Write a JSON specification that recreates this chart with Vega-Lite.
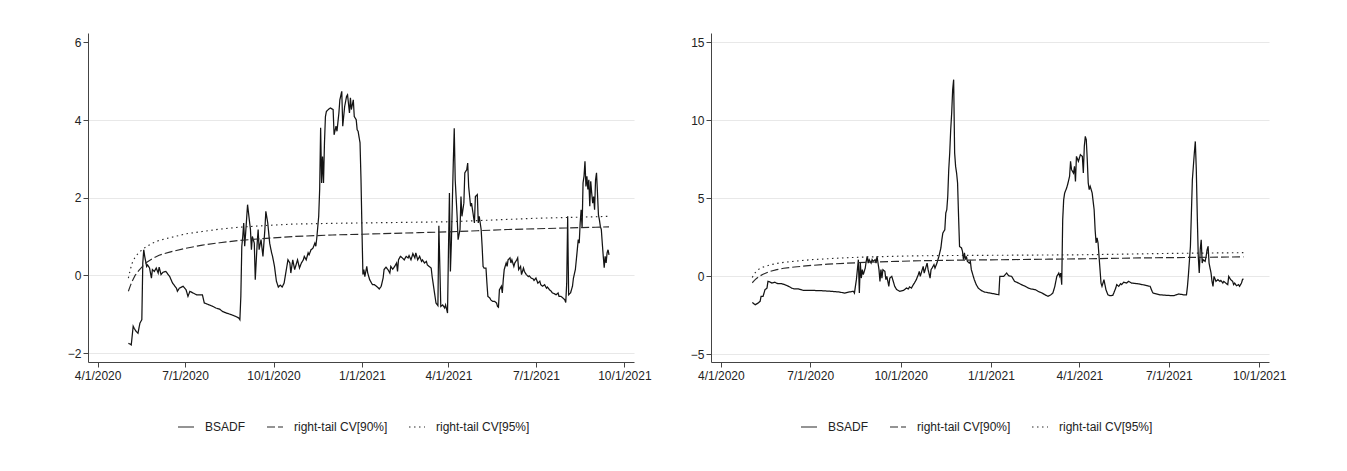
{
  "$schema": "https://vega.github.io/schema/vega-lite/v6.json",
  "background": "white",
  "padding": {"left": 67, "top": 33, "right": 64, "bottom": 38},
  "config": {
    "font": "Liberation Sans Narrow, Liberation Sans, Arial",
    "view": {"stroke": null},
    "axis": {"labelFont": "Liberation Sans Narrow, Liberation Sans, Arial", "labelFontSize": 12, "labelColor": "#222", "domainColor": "#444", "tickColor": "#444", "tickSize": 5, "title": null},
    "legend": {"labelFont": "Liberation Sans Narrow, Liberation Sans, Arial", "labelFontSize": 12, "labelColor": "#222"}
  },
  "datasets": {
    "cv": [
      {"d":"2020-05-03","c90":-0.41,"c95":-0.07},
      {"d":"2020-05-05","c90":-0.27,"c95":0.15},
      {"d":"2020-05-07","c90":-0.15,"c95":0.32},
      {"d":"2020-05-10","c90":0.0,"c95":0.47},
      {"d":"2020-05-14","c90":0.13,"c95":0.59},
      {"d":"2020-05-21","c90":0.32,"c95":0.73},
      {"d":"2020-05-28","c90":0.43,"c95":0.83},
      {"d":"2020-06-04","c90":0.52,"c95":0.90},
      {"d":"2020-06-15","c90":0.60,"c95":0.97},
      {"d":"2020-07-02","c90":0.70,"c95":1.07},
      {"d":"2020-07-19","c90":0.78,"c95":1.13},
      {"d":"2020-08-06","c90":0.84,"c95":1.19},
      {"d":"2020-08-26","c90":0.90,"c95":1.24},
      {"d":"2020-09-27","c90":0.96,"c95":1.29},
      {"d":"2020-10-21","c90":1.00,"c95":1.32},
      {"d":"2020-12-01","c90":1.04,"c95":1.34},
      {"d":"2021-01-01","c90":1.06,"c95":1.35},
      {"d":"2021-02-01","c90":1.08,"c95":1.36},
      {"d":"2021-03-01","c90":1.10,"c95":1.37},
      {"d":"2021-04-01","c90":1.12,"c95":1.38},
      {"d":"2021-05-01","c90":1.15,"c95":1.41},
      {"d":"2021-06-01","c90":1.18,"c95":1.44},
      {"d":"2021-07-01","c90":1.20,"c95":1.47},
      {"d":"2021-08-01","c90":1.22,"c95":1.49},
      {"d":"2021-09-01","c90":1.24,"c95":1.51},
      {"d":"2021-09-15","c90":1.25,"c95":1.52}
    ],
    "left": [
      {"d":"2020-05-03","v":-1.75},{"d":"2020-05-05","v":-1.77},{"d":"2020-05-06","v":-1.79},{"d":"2020-05-08","v":-1.31},{"d":"2020-05-09","v":-1.36},{"d":"2020-05-11","v":-1.44},{"d":"2020-05-13","v":-1.49},{"d":"2020-05-15","v":-1.23},{"d":"2020-05-17","v":-1.14},{"d":"2020-05-18","v":0.32},{"d":"2020-05-19","v":0.66},{"d":"2020-05-20","v":0.49},{"d":"2020-05-22","v":0.23},{"d":"2020-05-23","v":0.27},{"d":"2020-05-25","v":0.19},{"d":"2020-05-27","v":-0.07},{"d":"2020-05-28","v":0.15},{"d":"2020-05-30","v":0.10},
      {"d":"2020-06-01","v":0.19},{"d":"2020-06-03","v":0.06},{"d":"2020-06-04","v":0.21},{"d":"2020-06-06","v":0.02},{"d":"2020-06-08","v":0.08},{"d":"2020-06-11","v":0.10},{"d":"2020-06-15","v":-0.03},{"d":"2020-06-18","v":-0.20},{"d":"2020-06-22","v":-0.33},{"d":"2020-06-23","v":-0.41},{"d":"2020-06-25","v":-0.33},{"d":"2020-06-29","v":-0.28},
      {"d":"2020-07-02","v":-0.37},{"d":"2020-07-04","v":-0.54},{"d":"2020-07-06","v":-0.41},{"d":"2020-07-09","v":-0.45},{"d":"2020-07-13","v":-0.50},{"d":"2020-07-16","v":-0.50},{"d":"2020-07-19","v":-0.50},{"d":"2020-07-21","v":-0.71},{"d":"2020-07-26","v":-0.76},{"d":"2020-07-30","v":-0.80},
      {"d":"2020-08-02","v":-0.84},{"d":"2020-08-06","v":-0.87},{"d":"2020-08-09","v":-0.93},{"d":"2020-08-13","v":-0.97},{"d":"2020-08-18","v":-1.01},{"d":"2020-08-23","v":-1.06},{"d":"2020-08-26","v":-1.10},{"d":"2020-08-27","v":-1.14},{"d":"2020-08-28","v":-0.54},{"d":"2020-08-29","v":0.75},{"d":"2020-08-30","v":1.00},{"d":"2020-08-31","v":1.35},
      {"d":"2020-09-01","v":0.75},{"d":"2020-09-02","v":1.09},{"d":"2020-09-04","v":1.82},{"d":"2020-09-06","v":1.39},{"d":"2020-09-07","v":1.18},{"d":"2020-09-08","v":0.66},{"d":"2020-09-09","v":1.00},{"d":"2020-09-11","v":0.83},{"d":"2020-09-12","v":-0.11},{"d":"2020-09-14","v":0.83},{"d":"2020-09-15","v":1.18},{"d":"2020-09-16","v":0.66},{"d":"2020-09-18","v":0.92},{"d":"2020-09-20","v":0.49},{"d":"2020-09-22","v":1.18},{"d":"2020-09-23","v":1.65},{"d":"2020-09-25","v":1.35},{"d":"2020-09-27","v":0.83},{"d":"2020-09-29","v":0.58},{"d":"2020-09-30","v":0.49},
      {"d":"2020-10-02","v":0.23},{"d":"2020-10-04","v":-0.15},{"d":"2020-10-06","v":-0.30},{"d":"2020-10-08","v":-0.25},{"d":"2020-10-10","v":-0.30},{"d":"2020-10-12","v":-0.20},{"d":"2020-10-14","v":0.10},{"d":"2020-10-16","v":0.40},{"d":"2020-10-18","v":0.32},{"d":"2020-10-19","v":0.06},{"d":"2020-10-21","v":0.40},{"d":"2020-10-23","v":0.15},{"d":"2020-10-25","v":0.32},{"d":"2020-10-26","v":0.40},{"d":"2020-10-28","v":0.19},{"d":"2020-10-30","v":0.32},
      {"d":"2020-11-01","v":0.40},{"d":"2020-11-02","v":0.49},{"d":"2020-11-04","v":0.40},{"d":"2020-11-06","v":0.58},{"d":"2020-11-07","v":0.53},{"d":"2020-11-09","v":0.66},{"d":"2020-11-11","v":0.70},{"d":"2020-11-13","v":0.83},{"d":"2020-11-14","v":0.75},{"d":"2020-11-15","v":0.96},{"d":"2020-11-17","v":1.52},{"d":"2020-11-18","v":2.21},{"d":"2020-11-19","v":3.80},{"d":"2020-11-20","v":2.38},{"d":"2020-11-21","v":3.06},{"d":"2020-11-22","v":2.38},{"d":"2020-11-23","v":3.41},{"d":"2020-11-24","v":4.09},{"d":"2020-11-25","v":4.22},{"d":"2020-11-27","v":4.27},{"d":"2020-11-29","v":4.31},
      {"d":"2020-12-02","v":4.27},{"d":"2020-12-03","v":3.62},{"d":"2020-12-05","v":3.84},{"d":"2020-12-06","v":3.71},{"d":"2020-12-08","v":4.18},{"d":"2020-12-09","v":4.52},{"d":"2020-12-11","v":4.74},{"d":"2020-12-12","v":3.84},{"d":"2020-12-14","v":4.35},{"d":"2020-12-16","v":4.61},{"d":"2020-12-17","v":4.65},{"d":"2020-12-19","v":4.18},{"d":"2020-12-20","v":4.57},{"d":"2020-12-21","v":4.27},{"d":"2020-12-23","v":4.52},{"d":"2020-12-24","v":4.09},{"d":"2020-12-26","v":4.01},{"d":"2020-12-27","v":3.75},{"d":"2020-12-28","v":3.71},{"d":"2020-12-30","v":3.41},{"d":"2020-12-31","v":2.47},
      {"d":"2021-01-01","v":1.18},{"d":"2021-01-02","v":0.02},{"d":"2021-01-03","v":0.15},{"d":"2021-01-04","v":-0.03},{"d":"2021-01-06","v":0.23},{"d":"2021-01-07","v":0.06},{"d":"2021-01-09","v":-0.11},{"d":"2021-01-11","v":-0.20},{"d":"2021-01-12","v":-0.24},{"d":"2021-01-14","v":-0.24},{"d":"2021-01-16","v":-0.28},{"d":"2021-01-17","v":-0.30},{"d":"2021-01-19","v":-0.35},{"d":"2021-01-21","v":-0.28},{"d":"2021-01-23","v":-0.07},{"d":"2021-01-24","v":0.15},{"d":"2021-01-26","v":0.21},{"d":"2021-01-28","v":0.15},{"d":"2021-01-30","v":0.06},{"d":"2021-01-31","v":0.23},
      {"d":"2021-02-02","v":0.16},{"d":"2021-02-04","v":0.23},{"d":"2021-02-06","v":0.32},{"d":"2021-02-07","v":0.10},{"d":"2021-02-08","v":0.40},{"d":"2021-02-10","v":0.49},{"d":"2021-02-12","v":0.45},{"d":"2021-02-14","v":0.40},{"d":"2021-02-16","v":0.49},{"d":"2021-02-18","v":0.45},{"d":"2021-02-19","v":0.51},{"d":"2021-02-21","v":0.40},{"d":"2021-02-23","v":0.56},{"d":"2021-02-25","v":0.45},{"d":"2021-02-26","v":0.58},{"d":"2021-02-28","v":0.40},
      {"d":"2021-03-02","v":0.49},{"d":"2021-03-04","v":0.36},{"d":"2021-03-05","v":0.40},{"d":"2021-03-07","v":0.32},{"d":"2021-03-09","v":0.36},{"d":"2021-03-10","v":0.27},{"d":"2021-03-12","v":0.23},{"d":"2021-03-14","v":0.19},{"d":"2021-03-15","v":-0.03},{"d":"2021-03-17","v":-0.37},{"d":"2021-03-18","v":-0.54},{"d":"2021-03-19","v":-0.71},{"d":"2021-03-21","v":-0.78},{"d":"2021-03-22","v":1.28},{"d":"2021-03-24","v":-0.80},{"d":"2021-03-26","v":-0.76},{"d":"2021-03-28","v":-0.84},{"d":"2021-03-29","v":-0.76},{"d":"2021-03-31","v":-0.97},
      {"d":"2021-04-01","v":0.66},{"d":"2021-04-02","v":2.12},{"d":"2021-04-03","v":0.10},{"d":"2021-04-04","v":0.83},{"d":"2021-04-06","v":2.89},{"d":"2021-04-07","v":3.79},{"d":"2021-04-08","v":2.46},{"d":"2021-04-10","v":1.52},{"d":"2021-04-11","v":0.92},{"d":"2021-04-13","v":1.18},{"d":"2021-04-14","v":2.03},{"d":"2021-04-15","v":1.52},{"d":"2021-04-17","v":1.86},{"d":"2021-04-18","v":2.64},{"d":"2021-04-20","v":2.72},{"d":"2021-04-21","v":2.89},{"d":"2021-04-22","v":2.29},{"d":"2021-04-24","v":1.78},{"d":"2021-04-25","v":1.86},{"d":"2021-04-27","v":1.52},{"d":"2021-04-28","v":1.35},{"d":"2021-04-29","v":2.03},
      {"d":"2021-05-01","v":2.08},{"d":"2021-05-02","v":1.35},{"d":"2021-05-03","v":1.52},{"d":"2021-05-05","v":1.18},{"d":"2021-05-06","v":0.75},{"d":"2021-05-07","v":0.23},{"d":"2021-05-08","v":0.19},{"d":"2021-05-10","v":0.19},{"d":"2021-05-11","v":-0.20},{"d":"2021-05-12","v":-0.54},{"d":"2021-05-14","v":-0.58},{"d":"2021-05-15","v":-0.63},{"d":"2021-05-17","v":-0.67},{"d":"2021-05-19","v":-0.67},{"d":"2021-05-21","v":-0.71},{"d":"2021-05-22","v":-0.80},{"d":"2021-05-23","v":-0.82},{"d":"2021-05-24","v":-0.37},{"d":"2021-05-26","v":-0.28},{"d":"2021-05-27","v":-0.45},{"d":"2021-05-28","v":-0.11},{"d":"2021-05-29","v":0.15},{"d":"2021-05-31","v":0.32},
      {"d":"2021-06-01","v":0.23},{"d":"2021-06-02","v":0.40},{"d":"2021-06-04","v":0.45},{"d":"2021-06-05","v":0.32},{"d":"2021-06-06","v":0.40},{"d":"2021-06-08","v":0.23},{"d":"2021-06-09","v":0.32},{"d":"2021-06-11","v":0.40},{"d":"2021-06-12","v":0.45},{"d":"2021-06-13","v":0.15},{"d":"2021-06-15","v":0.23},{"d":"2021-06-16","v":0.02},{"d":"2021-06-18","v":0.19},{"d":"2021-06-19","v":0.10},{"d":"2021-06-21","v":0.02},{"d":"2021-06-23","v":-0.03},{"d":"2021-06-24","v":-0.01},{"d":"2021-06-26","v":-0.07},{"d":"2021-06-28","v":-0.09},{"d":"2021-06-29","v":-0.13},
      {"d":"2021-07-01","v":-0.07},{"d":"2021-07-03","v":-0.20},{"d":"2021-07-05","v":-0.15},{"d":"2021-07-06","v":-0.24},{"d":"2021-07-08","v":-0.28},{"d":"2021-07-10","v":-0.24},{"d":"2021-07-12","v":-0.33},{"d":"2021-07-13","v":-0.30},{"d":"2021-07-15","v":-0.37},{"d":"2021-07-17","v":-0.41},{"d":"2021-07-18","v":-0.45},{"d":"2021-07-20","v":-0.47},{"d":"2021-07-22","v":-0.50},{"d":"2021-07-24","v":-0.45},{"d":"2021-07-25","v":-0.54},{"d":"2021-07-27","v":-0.54},{"d":"2021-07-29","v":-0.58},{"d":"2021-07-31","v":-0.63},
      {"d":"2021-08-01","v":-0.70},{"d":"2021-08-02","v":-0.20},{"d":"2021-08-03","v":1.52},{"d":"2021-08-04","v":-0.50},{"d":"2021-08-06","v":-0.45},{"d":"2021-08-08","v":-0.28},{"d":"2021-08-09","v":-0.07},{"d":"2021-08-11","v":0.15},{"d":"2021-08-12","v":0.40},{"d":"2021-08-14","v":0.92},{"d":"2021-08-15","v":0.83},{"d":"2021-08-16","v":1.35},{"d":"2021-08-17","v":1.69},{"d":"2021-08-18","v":1.22},{"d":"2021-08-19","v":2.38},{"d":"2021-08-20","v":2.55},{"d":"2021-08-21","v":2.94},{"d":"2021-08-22","v":2.29},{"d":"2021-08-23","v":2.55},{"d":"2021-08-24","v":2.21},{"d":"2021-08-25","v":2.46},{"d":"2021-08-26","v":1.78},{"d":"2021-08-27","v":2.42},{"d":"2021-08-28","v":2.12},{"d":"2021-08-29","v":1.86},{"d":"2021-08-30","v":2.03},{"d":"2021-08-31","v":1.69},
      {"d":"2021-09-01","v":2.46},{"d":"2021-09-02","v":2.64},{"d":"2021-09-03","v":2.12},{"d":"2021-09-04","v":1.56},{"d":"2021-09-05","v":1.43},{"d":"2021-09-06","v":1.26},{"d":"2021-09-07","v":1.18},{"d":"2021-09-08","v":0.83},{"d":"2021-09-09","v":0.50},{"d":"2021-09-10","v":0.20},{"d":"2021-09-11","v":0.49},{"d":"2021-09-12","v":0.32},{"d":"2021-09-13","v":0.58},{"d":"2021-09-14","v":0.66},{"d":"2021-09-15","v":0.53}
    ],
    "right": [
      {"d":"2020-05-03","v":-1.67},{"d":"2020-05-06","v":-1.82},{"d":"2020-05-09","v":-1.71},{"d":"2020-05-11","v":-1.60},{"d":"2020-05-12","v":-1.28},{"d":"2020-05-14","v":-1.28},{"d":"2020-05-16","v":-0.85},{"d":"2020-05-18","v":-0.75},{"d":"2020-05-19","v":-0.32},{"d":"2020-05-21","v":-0.36},{"d":"2020-05-23","v":-0.43},{"d":"2020-05-26","v":-0.38},{"d":"2020-05-29","v":-0.47},
      {"d":"2020-06-02","v":-0.47},{"d":"2020-06-05","v":-0.53},{"d":"2020-06-09","v":-0.64},{"d":"2020-06-12","v":-0.75},{"d":"2020-06-15","v":-0.81},{"d":"2020-06-19","v":-0.81},{"d":"2020-06-24","v":-0.90},
      {"d":"2020-07-02","v":-0.90},{"d":"2020-07-13","v":-0.92},{"d":"2020-07-23","v":-0.96},{"d":"2020-07-30","v":-1.00},
      {"d":"2020-08-05","v":-1.07},{"d":"2020-08-10","v":-1.00},{"d":"2020-08-14","v":-0.96},{"d":"2020-08-15","v":-1.07},{"d":"2020-08-17","v":-0.21},{"d":"2020-08-19","v":1.07},{"d":"2020-08-20","v":-1.07},{"d":"2020-08-21","v":0.85},{"d":"2020-08-22","v":-0.11},{"d":"2020-08-23","v":0.43},{"d":"2020-08-24","v":0.11},{"d":"2020-08-26","v":0.53},{"d":"2020-08-27","v":0.96},{"d":"2020-08-28","v":1.28},{"d":"2020-08-29","v":0.85},{"d":"2020-08-30","v":1.07},
      {"d":"2020-09-01","v":0.85},{"d":"2020-09-02","v":1.07},{"d":"2020-09-03","v":0.96},{"d":"2020-09-05","v":1.07},{"d":"2020-09-06","v":0.85},{"d":"2020-09-07","v":1.28},{"d":"2020-09-09","v":0.43},{"d":"2020-09-10","v":-0.32},{"d":"2020-09-11","v":0.43},{"d":"2020-09-12","v":-0.11},{"d":"2020-09-13","v":0.43},{"d":"2020-09-15","v":0.32},{"d":"2020-09-16","v":-0.21},{"d":"2020-09-17","v":0.00},{"d":"2020-09-19","v":-0.64},{"d":"2020-09-20","v":-0.11},{"d":"2020-09-22","v":0.00},{"d":"2020-09-23","v":-0.21},{"d":"2020-09-25","v":-0.64},{"d":"2020-09-27","v":-0.85},{"d":"2020-09-30","v":-0.96},
      {"d":"2020-10-04","v":-0.90},{"d":"2020-10-07","v":-0.75},{"d":"2020-10-09","v":-0.81},{"d":"2020-10-10","v":-0.68},{"d":"2020-10-12","v":-0.75},{"d":"2020-10-14","v":-0.53},{"d":"2020-10-15","v":-0.43},{"d":"2020-10-17","v":-0.21},{"d":"2020-10-19","v":0.11},{"d":"2020-10-20","v":0.32},{"d":"2020-10-21","v":0.00},{"d":"2020-10-23","v":0.43},{"d":"2020-10-24","v":0.64},{"d":"2020-10-25","v":0.21},{"d":"2020-10-27","v":0.64},{"d":"2020-10-28","v":0.85},{"d":"2020-10-29","v":0.43},{"d":"2020-10-31","v":-0.11},
      {"d":"2020-11-01","v":0.43},{"d":"2020-11-02","v":0.53},{"d":"2020-11-04","v":0.75},{"d":"2020-11-05","v":0.53},{"d":"2020-11-07","v":0.85},{"d":"2020-11-08","v":1.07},{"d":"2020-11-09","v":1.28},{"d":"2020-11-11","v":1.82},{"d":"2020-11-12","v":2.35},{"d":"2020-11-13","v":2.78},{"d":"2020-11-15","v":2.99},{"d":"2020-11-16","v":4.06},{"d":"2020-11-17","v":4.27},{"d":"2020-11-18","v":5.13},{"d":"2020-11-19","v":6.84},{"d":"2020-11-20","v":7.91},{"d":"2020-11-21","v":9.40},{"d":"2020-11-22","v":10.47},{"d":"2020-11-23","v":11.97},{"d":"2020-11-24","v":12.61},{"d":"2020-11-25","v":7.91},{"d":"2020-11-26","v":7.05},{"d":"2020-11-27","v":6.62},{"d":"2020-11-28","v":5.98},{"d":"2020-11-29","v":3.85},{"d":"2020-11-30","v":1.92},
      {"d":"2020-12-02","v":1.82},{"d":"2020-12-03","v":1.60},{"d":"2020-12-04","v":1.07},{"d":"2020-12-05","v":1.50},{"d":"2020-12-06","v":1.07},{"d":"2020-12-07","v":1.28},{"d":"2020-12-08","v":0.96},{"d":"2020-12-10","v":0.85},{"d":"2020-12-11","v":0.96},{"d":"2020-12-12","v":0.43},{"d":"2020-12-14","v":0.00},{"d":"2020-12-15","v":-0.21},{"d":"2020-12-17","v":-0.53},{"d":"2020-12-19","v":-0.75},{"d":"2020-12-22","v":-0.90},{"d":"2020-12-25","v":-1.00},{"d":"2020-12-31","v":-1.07},
      {"d":"2021-01-09","v":-1.18},{"d":"2021-01-10","v":0.00},{"d":"2021-01-14","v":0.00},{"d":"2021-01-17","v":0.21},{"d":"2021-01-19","v":0.04},{"d":"2021-01-22","v":0.00},{"d":"2021-01-25","v":-0.32},{"d":"2021-01-29","v":-0.43},
      {"d":"2021-02-01","v":-0.53},{"d":"2021-02-05","v":-0.64},{"d":"2021-02-08","v":-0.75},{"d":"2021-02-11","v":-0.81},{"d":"2021-02-15","v":-0.85},{"d":"2021-02-18","v":-0.96},{"d":"2021-02-22","v":-1.07},{"d":"2021-02-25","v":-1.18},{"d":"2021-02-28","v":-1.28},
      {"d":"2021-03-03","v":-1.18},{"d":"2021-03-05","v":-1.07},{"d":"2021-03-07","v":-0.64},{"d":"2021-03-09","v":0.00},{"d":"2021-03-11","v":0.21},{"d":"2021-03-12","v":0.00},{"d":"2021-03-13","v":0.21},{"d":"2021-03-14","v":-0.53},{"d":"2021-03-15","v":3.63},{"d":"2021-03-16","v":4.91},{"d":"2021-03-17","v":5.34},{"d":"2021-03-19","v":5.66},{"d":"2021-03-20","v":5.88},{"d":"2021-03-22","v":6.41},{"d":"2021-03-23","v":7.37},{"d":"2021-03-24","v":6.84},{"d":"2021-03-26","v":6.62},{"d":"2021-03-27","v":7.05},{"d":"2021-03-28","v":6.09},{"d":"2021-03-29","v":7.69},{"d":"2021-03-31","v":7.37},
      {"d":"2021-04-01","v":7.59},{"d":"2021-04-02","v":7.80},{"d":"2021-04-04","v":7.69},{"d":"2021-04-05","v":6.62},{"d":"2021-04-06","v":8.33},{"d":"2021-04-07","v":8.97},{"d":"2021-04-08","v":8.76},{"d":"2021-04-09","v":7.48},{"d":"2021-04-10","v":5.98},{"d":"2021-04-11","v":5.56},{"d":"2021-04-12","v":5.77},{"d":"2021-04-13","v":5.56},{"d":"2021-04-14","v":5.34},{"d":"2021-04-15","v":4.81},{"d":"2021-04-16","v":4.27},{"d":"2021-04-17","v":2.99},{"d":"2021-04-18","v":2.14},{"d":"2021-04-19","v":2.46},{"d":"2021-04-20","v":2.14},{"d":"2021-04-21","v":1.28},{"d":"2021-04-22","v":0.43},{"d":"2021-04-23","v":-0.43},{"d":"2021-04-24","v":-0.64},{"d":"2021-04-26","v":-0.21},{"d":"2021-04-27","v":-0.53},{"d":"2021-04-28","v":-0.85},{"d":"2021-04-30","v":-1.18},
      {"d":"2021-05-02","v":-1.24},{"d":"2021-05-05","v":-1.22},{"d":"2021-05-06","v":-1.07},{"d":"2021-05-08","v":-0.75},{"d":"2021-05-09","v":-0.53},{"d":"2021-05-11","v":-0.64},{"d":"2021-05-13","v":-0.47},{"d":"2021-05-14","v":-0.53},{"d":"2021-05-16","v":-0.38},{"d":"2021-05-19","v":-0.43},{"d":"2021-05-21","v":-0.32},{"d":"2021-05-24","v":-0.43},{"d":"2021-05-30","v":-0.47},
      {"d":"2021-06-04","v":-0.53},{"d":"2021-06-09","v":-0.60},{"d":"2021-06-12","v":-0.64},{"d":"2021-06-14","v":-0.96},{"d":"2021-06-15","v":-1.07},{"d":"2021-06-22","v":-1.18},{"d":"2021-06-29","v":-1.22},
      {"d":"2021-07-06","v":-1.24},{"d":"2021-07-11","v":-1.13},{"d":"2021-07-16","v":-1.18},{"d":"2021-07-19","v":-1.18},{"d":"2021-07-20","v":-0.64},{"d":"2021-07-21","v":0.11},{"d":"2021-07-23","v":1.92},{"d":"2021-07-24","v":4.06},{"d":"2021-07-25","v":6.20},{"d":"2021-07-27","v":7.91},{"d":"2021-07-28","v":8.65},{"d":"2021-07-29","v":6.84},{"d":"2021-07-30","v":3.85},{"d":"2021-07-31","v":1.28},
      {"d":"2021-08-01","v":0.21},{"d":"2021-08-02","v":1.71},{"d":"2021-08-03","v":2.35},{"d":"2021-08-04","v":0.85},{"d":"2021-08-05","v":1.07},{"d":"2021-08-07","v":0.96},{"d":"2021-08-08","v":1.28},{"d":"2021-08-09","v":1.71},{"d":"2021-08-10","v":1.92},{"d":"2021-08-11","v":0.85},{"d":"2021-08-13","v":0.21},{"d":"2021-08-14","v":-0.32},{"d":"2021-08-15","v":-0.64},{"d":"2021-08-16","v":0.00},{"d":"2021-08-18","v":-0.32},{"d":"2021-08-20","v":-0.21},{"d":"2021-08-22","v":-0.32},{"d":"2021-08-23","v":-0.26},{"d":"2021-08-25","v":-0.43},{"d":"2021-08-26","v":-0.32},{"d":"2021-08-28","v":-0.43},{"d":"2021-08-30","v":-0.53},{"d":"2021-08-31","v":0.00},
      {"d":"2021-09-02","v":-0.21},{"d":"2021-09-04","v":-0.32},{"d":"2021-09-05","v":-0.53},{"d":"2021-09-06","v":-0.43},{"d":"2021-09-08","v":-0.60},{"d":"2021-09-10","v":-0.53},{"d":"2021-09-11","v":-0.64},{"d":"2021-09-13","v":-0.43},{"d":"2021-09-14","v":-0.21},{"d":"2021-09-15","v":-0.15}
    ]
  },
  "hconcat": [
    {
      "width": 546,
      "height": 329,
      "encoding": {
        "x": {"field": "d", "type": "temporal", "scale": {"domain": ["2020-03-22", "2021-10-11"]},
          "axis": {"values": ["2020-04-01", "2020-07-01", "2020-10-01", "2021-01-01", "2021-04-01", "2021-07-01", "2021-10-01"], "format": "%-m/%-d/%Y", "grid": false, "labelPadding": 3}}
      },
      "layer": [
        {
          "data": {"name": "left"},
          "mark": {"type": "line", "color": "#141414", "strokeWidth": 1.25},
          "encoding": {
            "y": {"field": "v", "type": "quantitative", "scale": {"domain": [-2.23, 6.24], "nice": false, "zero": false},
              "axis": {"values": [-2, 0, 2, 4, 6], "grid": true, "gridColor": "#e8e8e8", "gridWidth": 1.2, "gridOpacity": {"condition": {"test": "datum.value == 6", "value": 0}, "value": 1}, "labelPadding": 2}},
            "strokeDash": {"datum": "BSADF", "type": "nominal",
              "scale": {"domain": ["BSADF", "right-tail CV[90%]", "right-tail CV[95%]"], "range": [[1, 0], [8, 3], [1.5, 3.5]]},
              "legend": {"title": null, "orient": "none", "legendX": 89, "legendY": 385, "direction": "horizontal", "symbolType": "stroke", "symbolSize": 256, "symbolStrokeWidth": 1.2, "symbolStrokeColor": "#222", "labelOffset": 10, "columnPadding": 18, "padding": 0}}
          }
        },
        {
          "data": {"name": "cv"},
          "mark": {"type": "line", "color": "#2a2a2a", "strokeWidth": 1.15},
          "encoding": {"y": {"field": "c90", "type": "quantitative"}, "strokeDash": {"datum": "right-tail CV[90%]", "type": "nominal"}}
        },
        {
          "data": {"name": "cv"},
          "mark": {"type": "line", "color": "#2a2a2a", "strokeWidth": 1.15},
          "encoding": {"y": {"field": "c95", "type": "quantitative"}, "strokeDash": {"datum": "right-tail CV[95%]", "type": "nominal"}}
        }
      ]
    },
    {
      "width": 558,
      "height": 329,
      "encoding": {
        "x": {"field": "d", "type": "temporal", "scale": {"domain": ["2020-03-22", "2021-10-11"]},
          "axis": {"values": ["2020-04-01", "2020-07-01", "2020-10-01", "2021-01-01", "2021-04-01", "2021-07-01", "2021-10-01"], "format": "%-m/%-d/%Y", "grid": false, "labelPadding": 3}}
      },
      "layer": [
        {
          "data": {"name": "right"},
          "mark": {"type": "line", "color": "#141414", "strokeWidth": 1.25},
          "encoding": {
            "y": {"field": "v", "type": "quantitative", "scale": {"domain": [-5.49, 15.6], "nice": false, "zero": false},
              "axis": {"values": [-5, 0, 5, 10, 15], "grid": true, "gridColor": "#e8e8e8", "gridWidth": 1.2, "labelPadding": 2}},
            "strokeDash": {"datum": "BSADF", "type": "nominal",
              "scale": {"domain": ["BSADF", "right-tail CV[90%]", "right-tail CV[95%]"], "range": [[1, 0], [8, 3], [1.5, 3.5]]},
              "legend": {"title": null, "orient": "none", "legendX": 89, "legendY": 385, "direction": "horizontal", "symbolType": "stroke", "symbolSize": 256, "symbolStrokeWidth": 1.2, "symbolStrokeColor": "#222", "labelOffset": 10, "columnPadding": 18, "padding": 0}}
          }
        },
        {
          "data": {"name": "cv"},
          "mark": {"type": "line", "color": "#2a2a2a", "strokeWidth": 1.15},
          "encoding": {"y": {"field": "c90", "type": "quantitative"}, "strokeDash": {"datum": "right-tail CV[90%]", "type": "nominal"}}
        },
        {
          "data": {"name": "cv"},
          "mark": {"type": "line", "color": "#2a2a2a", "strokeWidth": 1.15},
          "encoding": {"y": {"field": "c95", "type": "quantitative"}, "strokeDash": {"datum": "right-tail CV[95%]", "type": "nominal"}}
        }
      ]
    }
  ],
  "spacing": 77,
  "bounds": "flush",
  "resolve": {"scale": {"x": "independent", "y": "independent", "strokeDash": "independent"}, "legend": {"strokeDash": "independent"}}
}
